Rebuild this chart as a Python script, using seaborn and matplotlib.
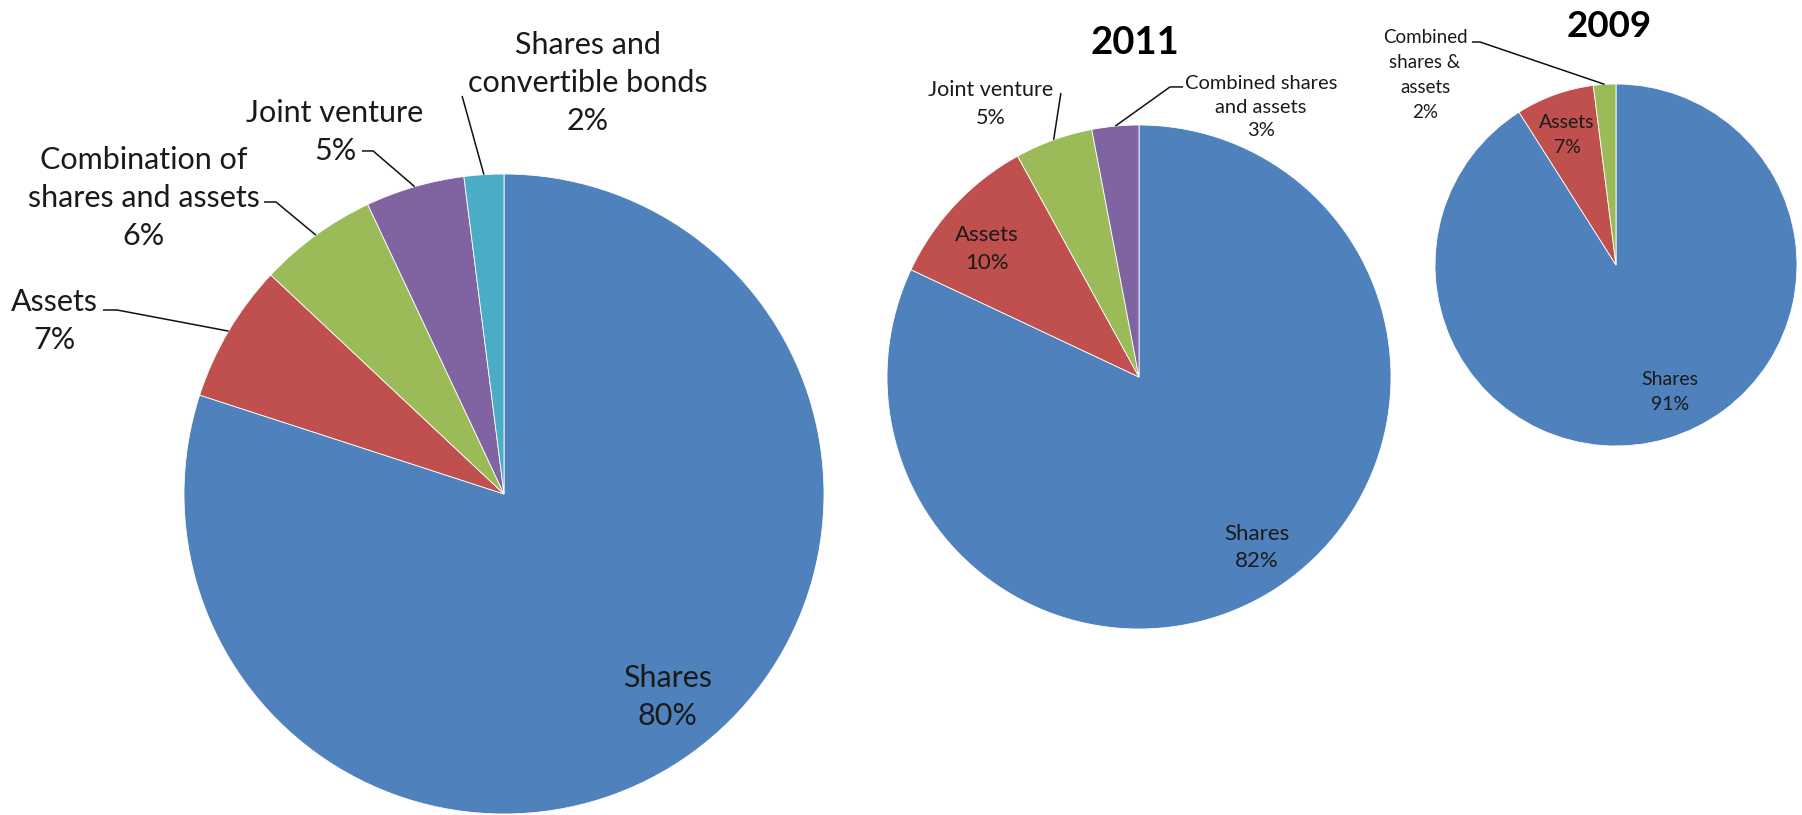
import matplotlib
matplotlib.use("Agg")
import matplotlib.pyplot as plt
import seaborn as sns
import numpy as np

sns.set_theme(style="white")
plt.rcParams["font.family"] = ["Lato", "DejaVu Sans"]

# ---- data -----------------------------------------------------------------
cats_main = ["Shares", "Assets", "Combination of\nshares and assets",
             "Joint venture", "Shares and\nconvertible bonds"]
vals_main = [80, 7, 6, 5, 2]

cats_2011 = ["Shares", "Assets", "Joint venture", "Combined shares\nand assets"]
vals_2011 = [82, 10, 5, 3]

cats_2009 = ["Shares", "Assets", "Combined\nshares &\nassets"]
vals_2009 = [91, 7, 2]

titles = ["", "2011", "2009"]

# Office-style series colours
palette = sns.color_palette(["#4F81BD", "#C0504D", "#9BBB59", "#8064A2", "#4BACC6"])

W, H = 1802, 815
fig = plt.figure(figsize=(W / 100, H / 100), dpi=100)
fig.patch.set_facecolor("white")

TEXT = "#1a1a1a"

# pie placement (centre x, centre y from top, radius) in pixels,
# label layout per slice: (x, y) in radius units, font size, leader start points
pies = [
    dict(cats=cats_main, vals=vals_main, title=titles[0], geom=(504, 494, 320),
         spacing=1.42,
         labels=[
             dict(pos=(0.512, -0.634), size=22),
             dict(pos=(-1.406, 0.541), size=22, lead=[(-1.253, 0.575), (-1.209, 0.575)]),
             dict(pos=(-1.125, 0.925), size=22, lead=[(-0.750, 0.9125), (-0.7125, 0.9125)]),
             dict(pos=(-0.528, 1.131), size=22, lead=[(-0.444, 1.072), (-0.409, 1.072)]),
             dict(pos=(0.2625, 1.284), size=22, lead=[(-0.131, 1.244)]),
         ]),
    dict(cats=cats_2011, vals=vals_2011, title=titles[1], geom=(1139, 377, 252),
         title_pos=(-0.016, 1.325), title_size=27.5, spacing=1.45,
         labels=[
             dict(pos=(0.468, -0.675), size=16),
             dict(pos=(-0.603, 0.508), size=16),
             dict(pos=(-0.587, 1.083), size=15.5, lead=[(-0.310, 1.127)]),
             dict(pos=(0.484, 1.071), size=14.5, lead=[(0.175, 1.151), (0.123, 1.151)]),
         ]),
    dict(cats=cats_2009, vals=vals_2009, title=titles[2], geom=(1616, 265, 181),
         title_pos=(-0.039, 1.315), title_size=26.5, spacing=1.55,
         labels=[
             dict(pos=(0.298, -0.702), size=14),
             dict(pos=(-0.271, 0.718), size=14),
             dict(pos=(-1.055, 1.050), size=13.5, lead=[(-0.796, 1.232), (-0.751, 1.232)]),
         ]),
]

for p in pies:
    cx, cy, r = p["geom"]
    ax = fig.add_axes([(cx - r) / W, (H - cy - r) / H, 2 * r / W, 2 * r / H])
    wedges, _ = ax.pie(p["vals"], colors=palette[:len(p["vals"])], startangle=90,
                       counterclock=False, radius=1.0,
                       wedgeprops=dict(edgecolor="white", linewidth=0.6))
    ax.set_xlim(-1, 1)
    ax.set_ylim(-1, 1)
    ax.set_aspect("equal")
    ax.axis("off")

    total = sum(p["vals"])
    for w, cat, val, lab in zip(wedges, p["cats"], p["vals"], p["labels"]):
        pct = f"{round(100 * val / total):d}%"
        x, y = lab["pos"]
        ax.text(x, y, f"{cat}\n{pct}", ha="center", va="center",
                fontsize=lab["size"], color=TEXT, linespacing=p["spacing"],
                clip_on=False)
        if "lead" in lab:
            mid = np.deg2rad((w.theta1 + w.theta2) / 2)
            pts = list(lab["lead"]) + [(np.cos(mid), np.sin(mid))]
            xs, ys = zip(*pts)
            ax.plot(xs, ys, color="#111111", lw=1.1, clip_on=False,
                    solid_capstyle="butt")

    if p["title"]:
        tx, ty = p["title_pos"]
        ax.text(tx, ty, p["title"], ha="center", va="center",
                fontsize=p["title_size"], fontweight="bold", color="black",
                clip_on=False)

fig.savefig("out.png", dpi=100, facecolor="white")
